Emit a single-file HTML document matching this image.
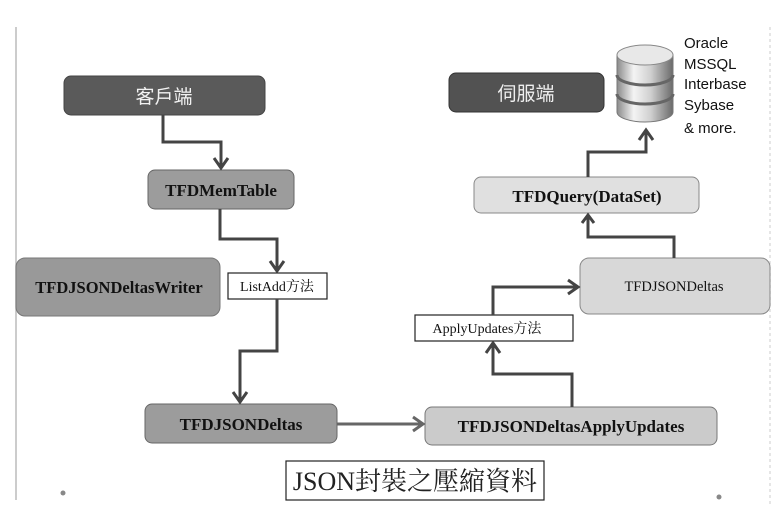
<!DOCTYPE html>
<html><head><meta charset="utf-8">
<style>
html,body{margin:0;padding:0;background:#fff;}
svg{display:block;}
.sf{font-family:"Liberation Serif","Noto Serif CJK SC",serif;}
.ss{font-family:"Liberation Sans","Noto Sans CJK TC",sans-serif;}
</style></head>
<body>
<svg width="782" height="522" viewBox="0 0 782 522" xmlns="http://www.w3.org/2000/svg">
<defs>
<linearGradient id="db" x1="0" x2="1" y1="0" y2="0">
<stop offset="0" stop-color="#8a8a8a"/><stop offset="0.3" stop-color="#f4f4f4"/><stop offset="0.6" stop-color="#d0d0d0"/><stop offset="1" stop-color="#6a6a6a"/>
</linearGradient>
</defs>
<rect width="782" height="522" fill="#fff"/>
<!-- borders -->
<line x1="16" y1="27" x2="16" y2="500" stroke="#bbb" stroke-width="1.5"/>
<line x1="770" y1="27" x2="770" y2="505" stroke="#ddd" stroke-width="1.5" stroke-dasharray="3 3"/>
<circle cx="63" cy="493" r="2.5" fill="#888"/>
<circle cx="719" cy="497" r="2.5" fill="#888"/>

<!-- boxes -->
<rect x="64" y="76" width="201" height="39" rx="7" fill="#5a5a5a" stroke="#444" stroke-width="1"/>
<text x="164" y="103" class="ss" font-size="19" fill="#f2f2f2" text-anchor="middle">客戶端</text>

<rect x="148" y="170" width="146" height="39" rx="7" fill="#9c9c9c" stroke="#666" stroke-width="1"/>
<text x="221" y="196" class="sf" font-size="17" font-weight="bold" fill="#111" text-anchor="middle">TFDMemTable</text>

<rect x="16" y="258" width="204" height="58" rx="9" fill="#999" stroke="#777" stroke-width="1"/>
<text x="119" y="293" class="sf" font-size="16.5" font-weight="bold" fill="#111" text-anchor="middle">TFDJSONDeltasWriter</text>

<rect x="228" y="273" width="99" height="26" fill="#fff" stroke="#222" stroke-width="1.2"/>
<text x="277" y="291" class="sf" font-size="14" fill="#111" text-anchor="middle">ListAdd方法</text>

<rect x="145" y="404" width="192" height="39" rx="7" fill="#9c9c9c" stroke="#666" stroke-width="1"/>
<text x="241" y="430" class="sf" font-size="17" font-weight="bold" fill="#111" text-anchor="middle">TFDJSONDeltas</text>

<rect x="425" y="407" width="292" height="38" rx="7" fill="#cbcbcb" stroke="#777" stroke-width="1"/>
<text x="571" y="432" class="sf" font-size="17" font-weight="bold" fill="#111" text-anchor="middle">TFDJSONDeltasApplyUpdates</text>

<rect x="415" y="315" width="158" height="26" fill="#fff" stroke="#222" stroke-width="1.2"/>
<text x="487" y="333" class="sf" font-size="14" fill="#111" text-anchor="middle">ApplyUpdates方法</text>

<rect x="580" y="258" width="190" height="56" rx="9" fill="#d8d8d8" stroke="#888" stroke-width="1"/>
<text x="674" y="291" class="sf" font-size="14.5" fill="#111" text-anchor="middle">TFDJSONDeltas</text>

<rect x="474" y="177" width="225" height="36" rx="7" fill="#e0e0e0" stroke="#888" stroke-width="1"/>
<text x="587" y="202" class="sf" font-size="17" font-weight="bold" fill="#111" text-anchor="middle">TFDQuery(DataSet)</text>

<rect x="449" y="73" width="155" height="39" rx="7" fill="#525252" stroke="#333" stroke-width="1"/>
<text x="526" y="100" class="ss" font-size="19" fill="#eee" text-anchor="middle">伺服端</text>

<rect x="286" y="461" width="258" height="39" fill="#fff" stroke="#222" stroke-width="1.2"/>
<text x="415" y="490" class="sf" font-size="26" fill="#222" text-anchor="middle">JSON封裝之壓縮資料</text>

<!-- DB icon -->
<g>
<path d="M617 55 L617 112 A28 10 0 0 0 673 112 L673 55 Z" fill="url(#db)" stroke="#777" stroke-width="1"/>
<ellipse cx="645" cy="55" rx="28" ry="10" fill="#e8e8e8" stroke="#888" stroke-width="1"/>
<path d="M617 75 A28 10 0 0 0 673 75" fill="none" stroke="#666" stroke-width="3"/>
<path d="M617 94 A28 10 0 0 0 673 94" fill="none" stroke="#666" stroke-width="3"/>
</g>
<g class="ss" font-size="15" fill="#111">
<text x="684" y="48">Oracle</text>
<text x="684" y="69">MSSQL</text>
<text x="684" y="89">Interbase</text>
<text x="684" y="110">Sybase</text>
<text x="684" y="133">&amp; more.</text>
</g>

<!-- connectors -->
<g fill="none" stroke="#444" stroke-width="3" stroke-linejoin="miter">
<polyline points="163,115 163,142 221,142 221,168"/>
<polyline points="214,158 221,168 228,158"/>
<polyline points="220,209 220,239 277,239 277,271"/>
<polyline points="270,261 277,271 284,261"/>
<polyline points="277,299 277,351 240,351 240,402"/>
<polyline points="233,392 240,402 247,392"/>
<polyline points="337,424 423,424" stroke="#666"/>
<polyline points="413,417 423,424 413,431" stroke="#666"/>
<polyline points="572,407 572,374 493,374 493,343"/>
<polyline points="486,353 493,343 500,353"/>
<polyline points="493,315 493,287 578,287"/>
<polyline points="568,280 578,287 568,294"/>
<polyline points="674,258 674,237 588,237 588,215"/>
<polyline points="582,223 588,215 594,223"/>
<polyline points="588,177 588,152 646,152 646,130"/>
<polyline points="639,140 646,130 653,140"/>
</g>
</svg>
</body></html>
